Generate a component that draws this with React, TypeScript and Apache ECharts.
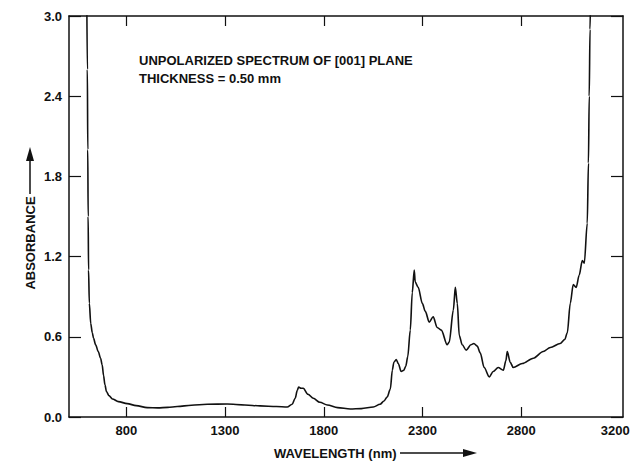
import React, { useEffect, useRef } from "react";
import * as echarts from "echarts";

const wavelength = [
  600, 603, 605, 607, 609, 613, 620, 628, 634, 645, 658, 670, 678, 685, 692, 700, 712, 730, 760, 805,
  850, 906, 960, 1010, 1058, 1130, 1210, 1311, 1400, 1478, 1560, 1615, 1640, 1655, 1666, 1673, 1684,
  1696, 1720, 1747, 1780, 1818, 1870, 1934, 1990, 2051, 2085, 2105, 2121, 2137, 2147, 2155, 2167,
  2177, 2192, 2205, 2215, 2225, 2238, 2248, 2258, 2263, 2278, 2299, 2314, 2334, 2354, 2374, 2395,
  2425, 2435, 2456, 2466, 2476, 2486, 2501, 2521, 2545, 2560, 2577, 2592, 2612, 2638, 2658, 2683,
  2709, 2722, 2729, 2744, 2759, 2805, 2861, 2911, 2947, 2997, 3020, 3033, 3048, 3063, 3078, 3093,
  3109, 3119, 3134, 3140, 3144, 3148, 3151,
];
const absorbance = [
  3.15, 2.6, 2.0, 1.5, 1.1, 0.85, 0.7, 0.63, 0.59, 0.54, 0.49, 0.44, 0.39, 0.31, 0.24, 0.19, 0.16,
  0.135, 0.115, 0.1, 0.085, 0.07, 0.068, 0.072, 0.078, 0.088, 0.095, 0.097, 0.09, 0.083, 0.078, 0.075,
  0.095, 0.14, 0.2, 0.225, 0.215, 0.215, 0.17, 0.14, 0.11, 0.09, 0.07, 0.06, 0.063, 0.075, 0.095,
  0.12, 0.15, 0.21, 0.35, 0.41, 0.43, 0.4, 0.34, 0.35, 0.38, 0.45, 0.65, 0.93, 1.1, 1.01, 0.97, 0.85,
  0.79, 0.71, 0.75, 0.67, 0.65, 0.54, 0.56, 0.8, 0.97, 0.85, 0.61, 0.54, 0.5, 0.54, 0.55, 0.53, 0.48,
  0.37, 0.3, 0.34, 0.37, 0.35, 0.42, 0.49, 0.41, 0.37, 0.4, 0.44, 0.49, 0.52, 0.55, 0.58, 0.63, 0.85,
  0.99, 0.97, 1.06, 1.17, 1.15, 1.45, 1.9, 2.4, 2.9, 3.15,
];
const xTickValues = [800, 1300, 1800, 2300, 2800];
const xLabelValues = [800, 1300, 1800, 2300, 2800, 3200];
const titleLines = ["UNPOLARIZED SPECTRUM OF [001] PLANE", "THICKNESS = 0.50 mm"];
const xAxisName = "WAVELENGTH (nm)";
const yAxisName = "ABSORBANCE";

const FONT = "'Liberation Sans', Arial, Helvetica, sans-serif";
const INK = "#111";

export default function App() {
  const ref = useRef<HTMLDivElement>(null);
  useEffect(() => {
    if (!ref.current) return;
    const chart = echarts.init(ref.current, undefined, { renderer: "svg" });
    const data = wavelength.map((w, i) => [w, absorbance[i]]);
    const labelStyle = { color: INK, fontFamily: FONT, fontWeight: "bold" as const, fontSize: 13 };
    const xMin = 510;
    const xMax = 3315;
    chart.setOption({
      animation: false,
      backgroundColor: "#fff",
      grid: { left: 69, right: 11, top: 16, bottom: 49, containLabel: false },
      xAxis: [
        {
          type: "value",
          min: xMin,
          max: xMax,
          position: "bottom",
          axisLine: { show: true, onZero: false, lineStyle: { color: INK, width: 1.5 } },
          axisTick: { show: true, inside: true, length: 10, customValues: xTickValues, lineStyle: { color: INK, width: 1.2 } },
          axisLabel: {
            ...labelStyle,
            margin: 7,
            customValues: xLabelValues,
            formatter: (v: number) => (v === 3200 ? "{s|3200}" : String(v)),
            rich: { s: { ...labelStyle, padding: [0, 0, 0, 30] } },
          },
          splitLine: { show: false },
        },
        {
          type: "value",
          min: xMin,
          max: xMax,
          position: "top",
          axisLine: { show: true, onZero: false, lineStyle: { color: INK, width: 1.5 } },
          axisTick: { show: true, inside: true, length: 10, customValues: xTickValues, lineStyle: { color: INK, width: 1.2 } },
          axisLabel: { show: false },
          splitLine: { show: false },
        },
      ],
      yAxis: [
        {
          type: "value",
          min: 0,
          max: 3,
          interval: 0.6,
          position: "left",
          axisLine: { show: true, onZero: false, lineStyle: { color: INK, width: 1.5 } },
          axisTick: { show: true, inside: true, length: 12, lineStyle: { color: INK, width: 1.2 } },
          axisLabel: { ...labelStyle, margin: 7, formatter: (v: number) => v.toFixed(1) },
          splitLine: { show: false },
        },
        {
          type: "value",
          min: 0,
          max: 3,
          interval: 0.6,
          position: "right",
          axisLine: { show: true, onZero: false, lineStyle: { color: INK, width: 1.5 } },
          axisTick: { show: true, inside: true, length: 12, lineStyle: { color: INK, width: 1.2 } },
          axisLabel: { show: false },
          splitLine: { show: false },
        },
      ],
      series: [
        {
          type: "line",
          xAxisIndex: 0,
          yAxisIndex: 0,
          data,
          showSymbol: false,
          smooth: 0.3,
          smoothMonotone: "x",
          clip: true,
          lineStyle: { color: INK, width: 1.6 },
        },
      ],
      graphic: [
        {
          type: "text",
          x: 139,
          y: 60,
          style: { text: titleLines[0], ...labelStyle, fill: INK, verticalAlign: "middle", align: "left" },
        },
        {
          type: "text",
          x: 139,
          y: 78,
          style: { text: titleLines[1], ...labelStyle, fill: INK, verticalAlign: "middle", align: "left" },
        },
        {
          type: "text",
          x: 274,
          y: 453,
          style: { text: xAxisName, ...labelStyle, fill: INK, verticalAlign: "middle", align: "left" },
        },
        { type: "line", shape: { x1: 400, y1: 453, x2: 466, y2: 453 }, style: { stroke: INK, lineWidth: 1.5 } },
        { type: "polygon", shape: { points: [[477, 453], [463, 449], [463, 457]] }, style: { fill: INK } },
        {
          type: "text",
          x: 30,
          y: 243,
          rotation: Math.PI / 2,
          style: { text: yAxisName, ...labelStyle, fill: INK, verticalAlign: "middle", align: "center" },
        },
        { type: "line", shape: { x1: 30, y1: 194, x2: 30, y2: 160 }, style: { stroke: INK, lineWidth: 1.5 } },
        { type: "polygon", shape: { points: [[30, 147], [26, 161], [34, 161]] }, style: { fill: INK } },
      ],
    });
    return () => chart.dispose();
  }, []);
  return (
    <div
      ref={ref}
      style={{ position: "absolute", left: 0, top: 0, width: 634, height: 466, background: "#fff" }}
    />
  );
}
